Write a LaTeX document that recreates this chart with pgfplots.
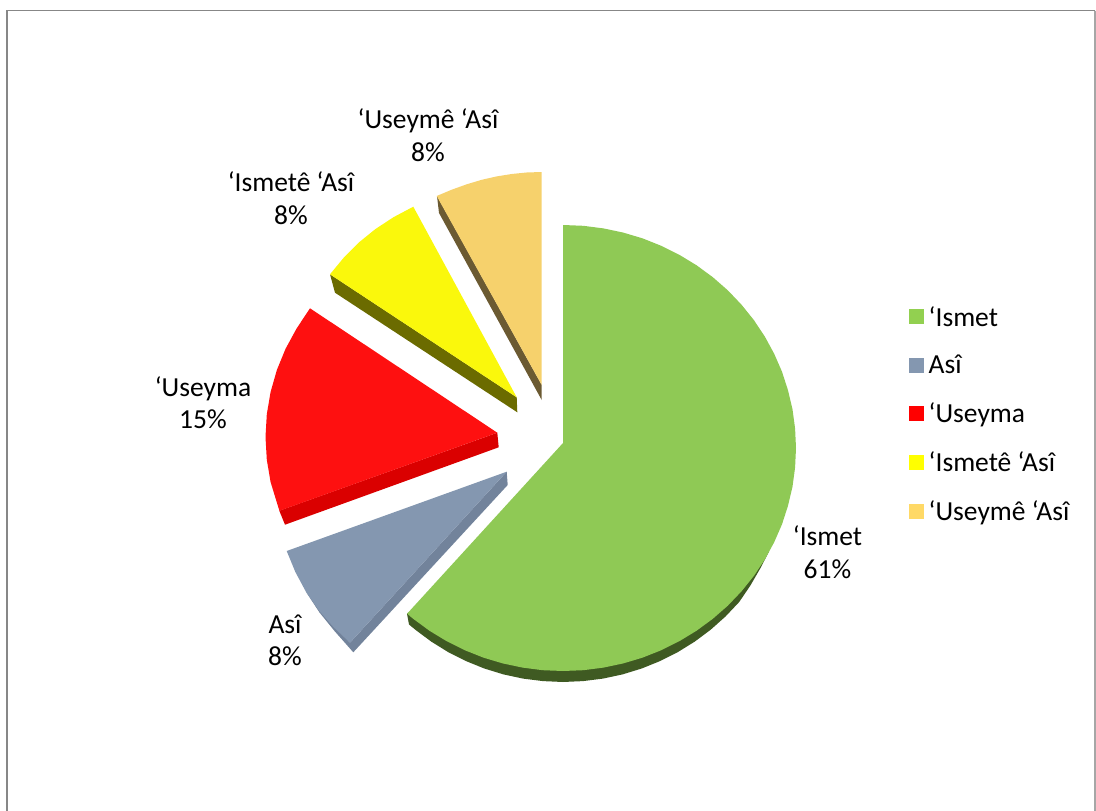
\documentclass[border=0pt]{standalone}
\usepackage{pgfplots}
\pgfplotsset{compat=1.18}
\usepackage{fontspec}
\setmainfont{Carlito}
\definecolor{gF}{HTML}{8FC955}\definecolor{gS}{HTML}{3F5A22}\definecolor{gL}{HTML}{92D050}
\definecolor{bF}{HTML}{8497B0}\definecolor{bS}{HTML}{72839B}
\definecolor{rF}{HTML}{FE1010}\definecolor{rS}{HTML}{DA0000}\definecolor{rL}{HTML}{FF0000}
\definecolor{yF}{HTML}{FAF80C}\definecolor{yS}{HTML}{6B6B00}\definecolor{yL}{HTML}{FFFF00}
\definecolor{tF}{HTML}{F6D16C}\definecolor{tS}{HTML}{6B5A32}\definecolor{tL}{HTML}{FFD966}
\begin{document}
\begin{tikzpicture}
\begin{axis}[
  scale only axis, width=1096pt, height=811pt,
  xmin=0, xmax=1096, ymin=0, ymax=811, y dir=reverse,
  hide axis,
  legend cell align=left,
  legend style={at={(axis cs:909,306)}, anchor=north west, draw=none, fill=none,
    font=\fontsize{27.5}{30}\selectfont, row sep=27.6pt, inner xsep=0pt, inner ysep=0pt,
    nodes={inner xsep=4.5pt, inner ysep=0pt}},
  legend image code/.code={\path[#1,draw=none] (0pt,-7.5pt) rectangle (15pt,7.5pt);},
]
\path (axis cs:0,0) rectangle (axis cs:1096,811);
% frame
\addplot[forget plot, draw=black!47, line width=1.4pt] coordinates {(7,811) (7,10.5) (1095,10.5)};
\addplot[forget plot, draw=black!35, line width=1.4pt] coordinates {(1095,10.5) (1095,811)};
% sides
\addplot[forget plot, fill=gS, draw=none] coordinates {
 (769,551.5) (760.5,568) (750.4,585.5) (739.2,602) (725.6,616.4) (710.8,629.6) (694.9,641.5)
 (678,652) (660.2,661) (641.7,668.5) (622.5,674.4) (603,678.6) (583,681.1) (563,682)
 (543,681.1) (523,678.6) (503.5,674.4) (484.3,668.5) (465.8,661) (448,652) (431.1,641.5)
 (415.2,629.6) (409,624.5) (407,613.7) (563,500)};
\addplot[forget plot, fill=bS, draw=none] coordinates {
 (506.7,471.7) (507.7,485) (353.3,652.3) (334.5,631) (319.5,612.5) (305.9,591.7) (350,642.7)};
\addplot[forget plot, fill=rS, draw=none] coordinates {(279.3,510.7) (285,524.7) (498.7,447.3) (497.3,432.7)};
\addplot[forget plot, fill=yS, draw=none] coordinates {(330,274.3) (335,292.7) (517.3,412.3) (516.7,397.3)};
\addplot[forget plot, fill=tS, draw=none] coordinates {(437,196) (439,213) (541.7,400) (541.7,385)};
% faces
\addplot[fill=gF, draw=none, legend image post style={fill=gL}] coordinates {
 (563,443) (563,225) (583.3,225.8) (603.5,228.4) (623.3,232.6) (642.7,238.4) (661.5,245.9)
 (679.5,254.9) (696.6,265.3) (712.8,277.2) (727.8,290.3) (741.5,304.7) (753.9,320.1)
 (764.8,336.5) (774.2,353.8) (782,371.7) (788,390.3) (792.5,409.3) (795.1,428.6) (796,448)
 (795.1,467.4) (792.5,486.7) (788,505.7) (782,524.3) (774.2,542.2) (764.8,559.5) (753.9,575.9)
 (741.5,591.3) (727.8,605.7) (712.8,618.8) (696.6,630.7) (679.5,641.1) (661.5,650.1)
 (642.7,657.6) (623.3,663.4) (603.5,667.6) (583.3,670.2) (563,671) (542.7,670.2) (522.5,667.6)
 (502.7,663.4) (483.3,657.6) (464.5,650.1) (446.5,641.1) (429.4,630.7) (413.2,618.8) (407.1,613.7)};
\addlegendentry{‘Ismet}
\addplot[fill=bF, draw=none] coordinates {
 (506.7,471.7) (286.7,551) (295.3,571.9) (305.9,591.7) (318.6,610.1) (333.3,626.9) (350,642.7)};
\addlegendentry{Asî}
\addplot[fill=rF, draw=none, legend image post style={fill=rL}] coordinates {
 (497.3,432.7) (310,308.3) (296.6,328.5) (285.6,348.7) (276.9,369.9) (270.6,391.9) (266.8,414.3)
 (265.5,437) (266.8,459.7) (270.6,482.1) (279.4,510.8)};
\addlegendentry{‘Useyma}
\addplot[fill=yF, draw=none, legend image post style={fill=yL}] coordinates {
 (516.7,397.3) (413.3,206.7) (393.65,217.1) (375.5,229) (358.8,242.5) (343.7,257.7) (330,274.3)};
\addlegendentry{‘Ismetê ‘Asî}
\addplot[fill=tF, draw=none, legend image post style={fill=tL}] coordinates {
 (541.7,385) (541.7,172) (526.7,172.5) (511.7,174) (496.7,176.4) (481.7,179.8) (466.7,184.3) (451.7,189.7) (436.7,196)};
\addlegendentry{‘Useymê ‘Asî}
% data labels
\begin{scope}[every node/.style={align=center, font=\fontsize{27.5}{32.5}\selectfont, inner sep=0pt}]
\node at (axis cs:827.5,552) {‘Ismet\\61\%};
\node at (axis cs:285,640.5) {Asî\\8\%};
\node at (axis cs:203,402.5) {‘Useyma\\15\%};
\node at (axis cs:291,198) {‘Ismetê ‘Asî\\8\%};
\node at (axis cs:428,135) {‘Useymê ‘Asî\\8\%};
\end{scope}
\end{axis}
\end{tikzpicture}
\end{document}
